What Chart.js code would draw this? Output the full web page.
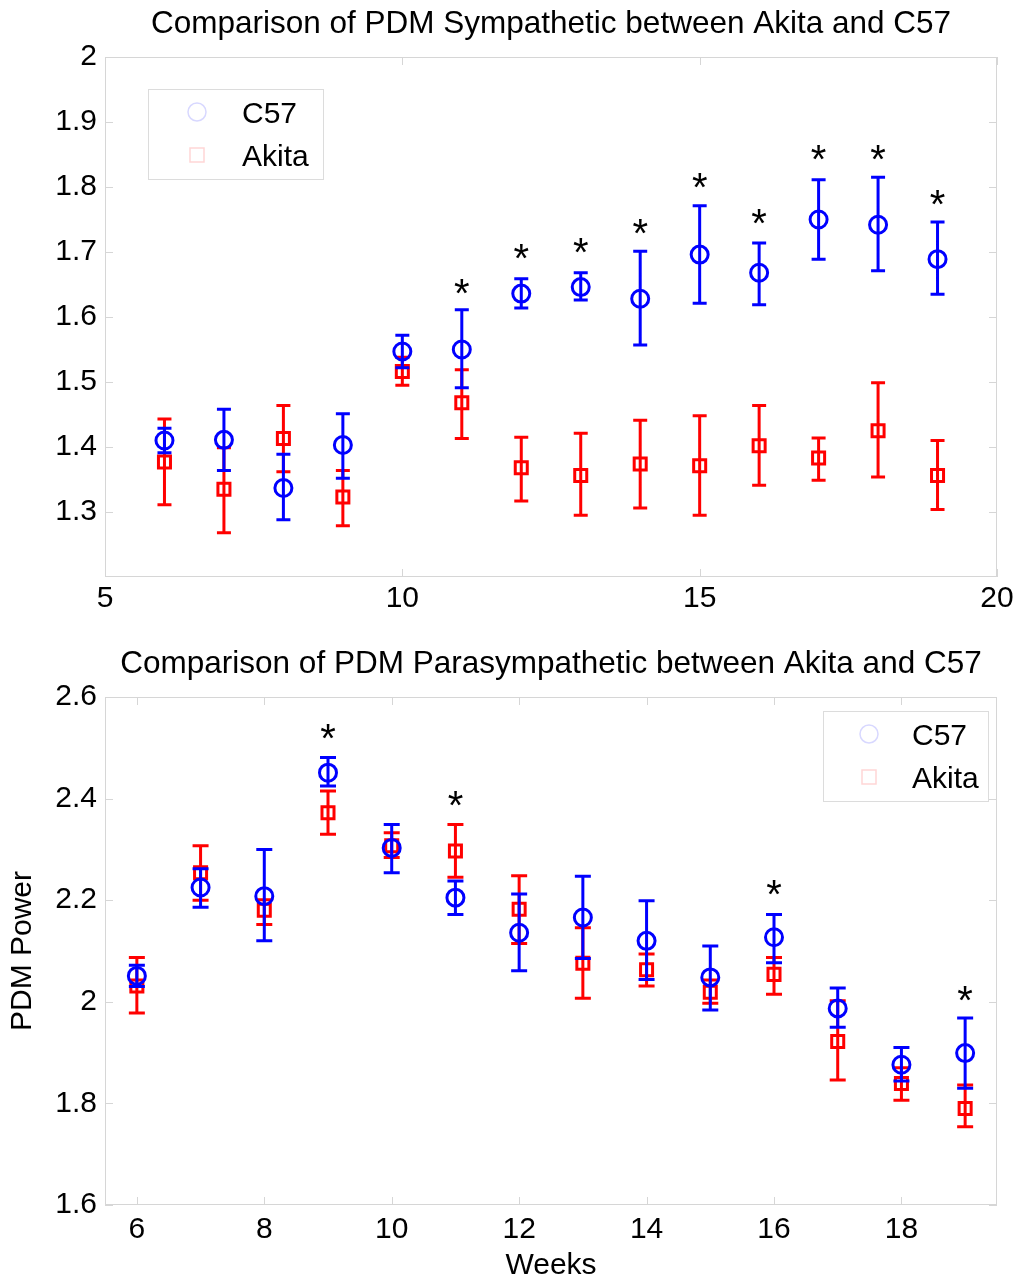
<!DOCTYPE html>
<html><head><meta charset="utf-8">
<script src="https://cdn.jsdelivr.net/npm/chart.js@4/dist/chart.umd.min.js"></script>
<style>
html,body{margin:0;padding:0;background:#fff;}
#w1{position:absolute;left:0;top:0;width:1021px;height:620px;}
#w2{position:absolute;left:0;top:620px;width:1021px;height:664px;}
</style></head><body>
<div id="w1"><canvas id="c1"></canvas></div>
<div id="w2"><canvas id="c2"></canvas></div>
<script>
// ---------- data ----------
const weeks = [6,7,8,9,10,11,12,13,14,15,16,17,18,19];
const seriesNames = ['C57','Akita'];

// Sympathetic (top)
const symC57      = [1.410,1.411,1.337,1.403,1.547,1.550,1.636,1.646,1.628,1.696,1.668,1.750,1.742,1.689];
const symC57Hi    = [1.429,1.458,1.389,1.451,1.572,1.611,1.659,1.668,1.701,1.771,1.714,1.811,1.815,1.746];
const symC57Lo    = [1.391,1.364,1.288,1.352,1.522,1.491,1.614,1.626,1.557,1.621,1.619,1.689,1.671,1.635];
const symAkita    = [1.377,1.335,1.413,1.323,1.516,1.468,1.368,1.356,1.374,1.371,1.402,1.383,1.425,1.356];
const symAkitaHi  = [1.443,1.399,1.464,1.364,1.538,1.519,1.415,1.421,1.441,1.448,1.464,1.414,1.499,1.410];
const symAkitaLo  = [1.311,1.268,1.362,1.279,1.495,1.413,1.317,1.295,1.306,1.295,1.341,1.349,1.354,1.304];
const symSigWeeks = [11,12,13,14,15,16,17,18,19];
const symSigY     = [1.649,1.703,1.712,1.742,1.812,1.757,1.855,1.855,1.786];
const symXTicks   = [5,10,15,20];
const symYTicks   = [1.3,1.4,1.5,1.6,1.7,1.8,1.9,2];

// Parasympathetic (bottom)
const parC57      = [2.051,2.225,2.208,2.451,2.303,2.205,2.136,2.166,2.120,2.048,2.127,1.987,1.876,1.899];
const parC57Hi    = [2.072,2.262,2.300,2.481,2.349,2.238,2.212,2.247,2.199,2.110,2.172,2.027,1.910,1.968];
const parC57Lo    = [2.030,2.186,2.120,2.425,2.254,2.172,2.061,2.085,2.044,1.984,2.077,1.950,1.844,1.830];
const parAkita    = [2.031,2.254,2.180,2.372,2.307,2.297,2.182,2.076,2.063,2.019,2.054,1.922,1.839,1.790];
const parAkitaHi  = [2.087,2.307,2.201,2.415,2.333,2.349,2.248,2.146,2.094,2.043,2.087,2.002,1.870,1.836];
const parAkitaLo  = [1.978,2.200,2.152,2.330,2.284,2.245,2.115,2.007,2.031,1.997,2.015,1.846,1.806,1.754];
const parSigWeeks = [9,11,16,19];
const parSigY     = [2.536,2.404,2.227,2.019];
const parXTicks   = [6,8,10,12,14,16,18];
const parYTicks   = [1.6,1.8,2,2.2,2.4,2.6];

const FONT = "'Liberation Sans', Arial, Helvetica, sans-serif";
Chart.defaults.font.family = FONT;
Chart.defaults.color = '#000';

function makeChart(canvasId, cfg) {
  const series = [
    {vals: cfg.c57, lo: cfg.c57Lo, hi: cfg.c57Hi, color:'#0000ff', style:'circle', r:8.5},
    {vals: cfg.ak,  lo: cfg.akLo,  hi: cfg.akHi,  color:'#ff0000', style:'rect',   r:8.5}
  ];
  const plugin = {
    id: 'matlabLook',
    beforeDatasetsDraw(chart) {
      const {ctx, chartArea: a, scales: {x, y}} = chart;
      ctx.save();
      ctx.strokeStyle = '#d6d6d6';
      ctx.lineWidth = 1;
      ctx.strokeRect(a.left + 0.5, a.top + 0.5, a.right - a.left - 1, a.bottom - a.top - 1);
      const tl = 8;
      ctx.beginPath();
      x.ticks.forEach(t => {
        const px = Math.round(x.getPixelForValue(t.value)) + 0.5;
        ctx.moveTo(px, a.bottom); ctx.lineTo(px, a.bottom - tl);
        ctx.moveTo(px, a.top); ctx.lineTo(px, a.top + tl);
      });
      y.ticks.forEach(t => {
        const py = Math.round(y.getPixelForValue(t.value)) + 0.5;
        ctx.moveTo(a.left, py); ctx.lineTo(a.left + tl, py);
        ctx.moveTo(a.right, py); ctx.lineTo(a.right - tl, py);
      });
      ctx.stroke();
      ctx.restore();
    },
    beforeDatasetDraw(chart, args) {
      const s = series[args.index];
      const {ctx, scales: {x, y}} = chart;
      ctx.save();
      ctx.strokeStyle = s.color;
      ctx.lineWidth = 3;
      ctx.lineCap = 'butt';
      ctx.beginPath();
      cfg.weeks.forEach((w, i) => {
        const px = x.getPixelForValue(w);
        const pl = y.getPixelForValue(s.lo[i]);
        const ph = y.getPixelForValue(s.hi[i]);
        ctx.moveTo(px, pl); ctx.lineTo(px, ph);
        ctx.moveTo(px - cfg.cap, ph); ctx.lineTo(px + cfg.cap, ph);
        ctx.moveTo(px - cfg.cap, pl); ctx.lineTo(px + cfg.cap, pl);
      });
      ctx.stroke();
      ctx.restore();
    },
    afterDraw(chart) {
      const {ctx, chartArea: a, scales: {x, y}} = chart;
      ctx.save();
      // title
      ctx.fillStyle = '#000';
      ctx.font = '31.5px ' + FONT;
      ctx.textAlign = 'center';
      ctx.textBaseline = 'alphabetic';
      ctx.fillText(cfg.title, (a.left + a.right) / 2, a.top - 24);
      // significance stars
      ctx.font = '40px ' + FONT;
      cfg.sigWeeks.forEach((w, i) => {
        ctx.fillText('*', x.getPixelForValue(w), y.getPixelForValue(cfg.sigY[i]) + 22);
      });
      // legend
      const L = cfg.legend;
      const bw = L.w, bh = 90;
      const bx = L.anchor === 'left' ? a.left + L.dx : a.right - L.dx - bw;
      const by = a.top + L.dy;
      ctx.fillStyle = '#fff';
      ctx.fillRect(bx, by, bw, bh);
      ctx.strokeStyle = '#dcdcdc';
      ctx.lineWidth = 1;
      ctx.strokeRect(bx + 0.5, by + 0.5, bw, bh);
      ctx.font = '30px ' + FONT;
      ctx.textAlign = 'left';
      const rows = [by + 23, by + 66];
      seriesNames.forEach((name, i) => {
        const cy = rows[i];
        const mx = bx + L.mx;
        ctx.lineWidth = 1.5;
        if (i === 0) {
          ctx.strokeStyle = '#d8d8ff';
          ctx.beginPath(); ctx.arc(mx, cy, 9, 0, Math.PI * 2); ctx.stroke();
        } else {
          ctx.strokeStyle = '#ffd6d6';
          ctx.strokeRect(mx - 7, cy - 7, 14, 14);
        }
        ctx.fillStyle = '#000';
        ctx.fillText(name, bx + L.tx, cy + 11);
      });
      ctx.restore();
    }
  };

  const xAxis = {
    type: 'linear', min: cfg.xMin, max: cfg.xMax,
    afterBuildTicks: s => { s.ticks = cfg.xTicks.map(v => ({value: v})); },
    afterFit: s => { s.height = cfg.xH; },
    grid: {display: false, drawTicks: false},
    border: {display: false},
    ticks: {font: {size: 30}, color: '#000', padding: cfg.xPad, maxRotation: 0, callback: v => String(v)}
  };
  const yAxis = {
    type: 'linear', min: cfg.yMin, max: cfg.yMax,
    afterBuildTicks: s => { s.ticks = cfg.yTicks.map(v => ({value: v})); },
    afterFit: s => { s.width = 105; },
    grid: {display: false, drawTicks: false},
    border: {display: false},
    ticks: {font: {size: 30}, color: '#000', padding: 8, callback: v => String(v)}
  };
  if (cfg.xTitle) xAxis.title = {display: true, text: cfg.xTitle, font: {size: 30}, color: '#000', padding: {top: 0, bottom: 0}};
  if (cfg.yTitle) yAxis.title = {display: true, text: cfg.yTitle, font: {size: 30}, color: '#000', padding: {top: 5, bottom: 0}};

  return new Chart(document.getElementById(canvasId), {
    type: 'scatter',
    data: {
      datasets: series.map((s, k) => ({
        label: seriesNames[k],
        data: cfg.weeks.map((w, i) => ({x: w, y: s.vals[i]})),
        pointStyle: s.style,
        pointRadius: s.r,
        pointBorderWidth: 3,
        pointBorderColor: s.color,
        pointBackgroundColor: 'rgba(0,0,0,0)',
        borderColor: s.color,
        showLine: false
      }))
    },
    options: {
      animation: false, responsive: true, maintainAspectRatio: false, events: [],
      layout: {padding: {left: 0, right: 24, top: cfg.topPad, bottom: 0}},
      plugins: {legend: {display: false}, tooltip: {enabled: false}, title: {display: false}},
      scales: {x: xAxis, y: yAxis}
    },
    plugins: [plugin]
  });
}

makeChart('c1', {
  title: 'Comparison of PDM Sympathetic between Akita and C57',
  weeks, c57: symC57, c57Lo: symC57Lo, c57Hi: symC57Hi, ak: symAkita, akLo: symAkitaLo, akHi: symAkitaHi,
  sigWeeks: symSigWeeks, sigY: symSigY,
  xMin: 5, xMax: 20, xTicks: symXTicks, yMin: 1.2, yMax: 2, yTicks: symYTicks,
  xH: 43, xPad: 4, topPad: 57, cap: 7,
  legend: {anchor: 'left', dx: 43, dy: 32, w: 175, mx: 49, tx: 94}
});
makeChart('c2', {
  title: 'Comparison of PDM Parasympathetic between Akita and C57',
  weeks, c57: parC57, c57Lo: parC57Lo, c57Hi: parC57Hi, ak: parAkita, akLo: parAkitaLo, akHi: parAkitaHi,
  sigWeeks: parSigWeeks, sigY: parSigY,
  xMin: 5.5, xMax: 19.5, xTicks: parXTicks, yMin: 1.6, yMax: 2.6, yTicks: parYTicks,
  xH: 79, xPad: 7, topPad: 77, cap: 8,
  xTitle: 'Weeks', yTitle: 'PDM Power',
  legend: {anchor: 'right', dx: 9, dy: 14, w: 165, mx: 46, tx: 89}
});
</script>
</body></html>
